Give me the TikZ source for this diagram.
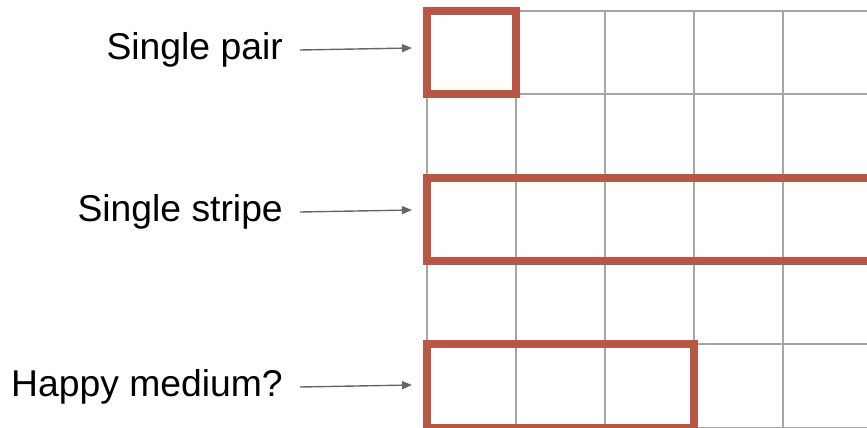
\documentclass[tikz,border=0pt]{standalone}
\usepackage{fontspec}
\setmainfont{Liberation Sans}
\usetikzlibrary{arrows.meta}
\definecolor{gridgray}{RGB}{166,166,166}
\definecolor{boxred}{RGB}{184,87,68}
\definecolor{arrowgray}{RGB}{102,102,102}
\tikzset{
  gridline/.style={draw=gridgray, line width=2pt},
  selbox/.style={draw=boxred, line width=8pt, rectangle, inner sep=0pt, outer sep=0pt},
  lbl/.style={anchor=east, inner sep=0pt, font=\fontsize{37.3}{44}\selectfont},
  pointer/.style={draw=arrowgray, line width=1.4pt, -{Triangle[length=10pt,width=8pt]}}
}
\begin{document}
\begin{tikzpicture}[x=1pt,y=-1pt]
  \useasboundingbox (0,0) rectangle (867,428);
  % grid of cells
  \foreach \gx in {426.5,516,605,694,783}
    \draw[gridline] (\gx,11) -- (\gx,440);
  \foreach \gy in {11,94.3,177.7,261,344.3,427.6}
    \draw[gridline] (426.5,\gy) -- (880,\gy);
  % highlighted regions
  \node[selbox, minimum width=89.5pt, minimum height=83.3pt] (pair) at (471.25,52.65) {};
  \node[selbox, minimum width=500pt, minimum height=83.3pt, anchor=west] (stripe) at (426.5,219.35) {};
  \node[selbox, minimum width=267.5pt, minimum height=83.3pt] (medium) at (560.25,385.95) {};
  % labels
  \node[lbl] (lpair) at (283,50) {Single pair};
  \node[lbl] (lstripe) at (283,212) {Single stripe};
  \node[lbl] (lmedium) at (283,387) {Happy medium?};
  % arrow targets
  \coordinate (tpair) at (412,48);
  \coordinate (tstripe) at (412,210);
  \coordinate (tmedium) at (412,385);
  \draw[pointer] ([xshift=17pt]lpair.east) -- (tpair);
  \draw[pointer] ([xshift=17pt]lstripe.east) -- (tstripe);
  \draw[pointer] ([xshift=17pt]lmedium.east) -- (tmedium);
\end{tikzpicture}
\end{document}
